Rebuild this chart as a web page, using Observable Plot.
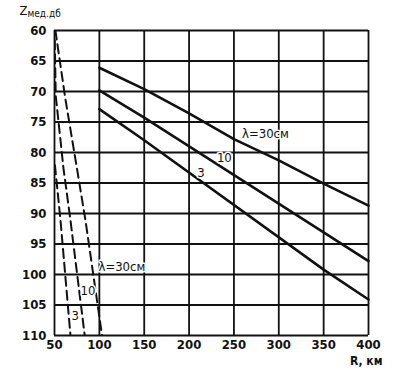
<!DOCTYPE html>
<html><head><meta charset="utf-8">
<script src="https://cdn.jsdelivr.net/npm/d3@7"></script>
<script src="https://cdn.jsdelivr.net/npm/@observablehq/plot@0.6"></script>
<style>
body{margin:0;background:#fff;}
svg{font-family:"Liberation Sans Narrow","DejaVu Sans Condensed","Liberation Sans",sans-serif;}
</style>
</head><body><div id="chart"></div>
<script>
// Solid curves (lambda = 30, 10, 3 cm)
const r30 = [100, 150, 200, 250, 300, 350, 400];
const z30 = [66.1, 69.6, 73.6, 77.8, 81.3, 85.1, 88.7];
const r10 = [100, 150, 350, 400];
const z10 = [69.8, 74.3, 93.1, 97.8];
const r3 = [100, 150, 350, 400];
const z3 = [72.9, 78.0, 99.2, 104.1];
// Dashed curves (lambda = 30, 10, 3 cm)
const dr30 = [51, 62, 75, 84.5, 103];
const dz30 = [60, 71.1, 82.6, 91.1, 110];
const dr10 = [50.3, 51.4, 60, 67.8, 83.7];
const dz10 = [61.6, 70.7, 82.6, 91.1, 110];
const dr3 = [50.5, 56.7, 67.8];
const dz3 = [82.1, 91.1, 110];
// Tick values
const xTicks = [50, 100, 150, 200, 250, 300, 350, 400];
const yTicks = [60, 65, 70, 75, 80, 85, 90, 95, 100, 105, 110];
// Curve labels (left edge of text)
const labelText = ["λ=30см", "10", "3", "λ=30см", "10", "3"];
const labelR = [259, 231, 209, 99, 79, 69];
const labelZ = [76.9, 80.9, 83.3, 98.7, 102.6, 106.7];

const toRows = (rs, zs, s) => rs.map((r, i) => ({R: r, Z: zs[i], s}));
const solid = [...toRows(r30, z30, "30"), ...toRows(r10, z10, "10"), ...toRows(r3, z3, "3")];
const dashed = [...toRows(dr30, dz30, "30"), ...toRows(dr10, dz10, "10"), ...toRows(dr3, dz3, "3")];
const labels = labelText.map((t, i) => ({t, R: labelR[i], Z: labelZ[i]}));

const ink = "#111";
const chart = Plot.plot({
  width: 405, height: 371,
  marginLeft: 54, marginRight: 37, marginTop: 30, marginBottom: 36,
  style: {background: "#fff", color: ink, fontSize: "13px", fontWeight: "bold"},
  x: {domain: [50, 400], ticks: xTicks, tickSize: 0, tickPadding: 4, label: "R, км", labelAnchor: "right", labelOffset: 30, labelArrow: false},
  y: {domain: [60, 110], reverse: true, ticks: yTicks, tickSize: 0, tickPadding: 8, label: "Zмед.дб", labelAnchor: "top", labelArrow: false},
  marks: [
    Plot.gridX(xTicks, {stroke: ink, strokeOpacity: 1, strokeWidth: 1.8}),
    Plot.gridY(yTicks, {stroke: ink, strokeOpacity: 1, strokeWidth: 1.8}),
    Plot.line(solid, {x: "R", y: "Z", z: "s", stroke: ink, strokeWidth: 2.6}),
    Plot.line(dashed, {x: "R", y: "Z", z: "s", stroke: ink, strokeWidth: 2, strokeDasharray: "9,5", clip: true}),
    Plot.text(labels, {x: "R", y: "Z", text: "t", textAnchor: "start", fill: ink, fontSize: 13, fontWeight: "normal", stroke: "white", strokeWidth: 3, paintOrder: "stroke"})
  ]
});
document.getElementById("chart").appendChild(chart);
d3.select(chart).selectAll("text").each(function() {
  const el = d3.select(this);
  const t = el.text();
  const tr = el.attr("transform") || "";
  if (t === "Zмед.дб") {
    // subscript part of the y label
    el.text("");
    el.attr("transform", tr + " translate(16,2)");
    el.append("tspan").text("Z").attr("font-size", 13).attr("font-weight", "normal");
    el.append("tspan").text("мед.дб").attr("font-size", 10).attr("font-weight", "normal").attr("dy", "0.25em");
  } else if (t === "R, км") {
    el.attr("transform", tr + " translate(-20,-1)").attr("font-size", 12);
  }
});
</script>
</body></html>
